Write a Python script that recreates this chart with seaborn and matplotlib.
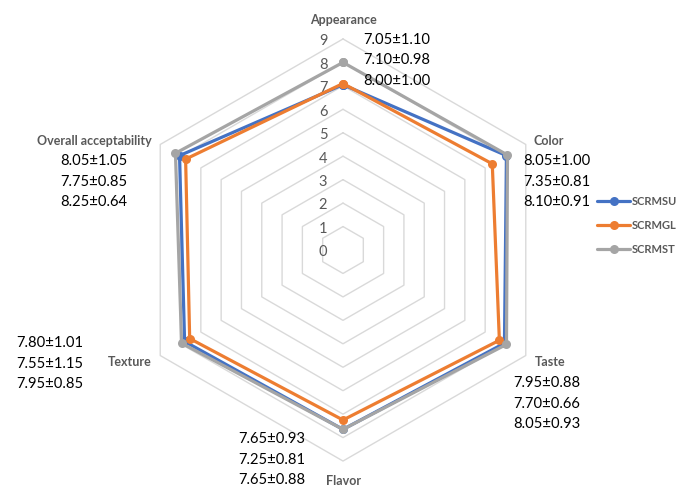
import numpy as np
import pandas as pd
import matplotlib
matplotlib.use("Agg")
import matplotlib.pyplot as plt
import seaborn as sns

# Sensory attributes, clockwise from the top
categories = ["Appearance", "Color", "Taste", "Flavor", "Texture", "Overall acceptability"]
series_names = ["SCRMSU", "SCRMGL", "SCRMST"]

# Mean scores
scrmsu_mean = [7.05, 8.05, 7.95, 7.65, 7.80, 8.05]
scrmgl_mean = [7.10, 7.35, 7.70, 7.25, 7.55, 7.75]
scrmst_mean = [8.00, 8.10, 8.05, 7.65, 7.95, 8.25]

# Standard deviations
scrmsu_sd = [1.10, 1.00, 0.88, 0.93, 1.01, 1.05]
scrmgl_sd = [0.98, 0.81, 0.66, 0.81, 1.15, 0.85]
scrmst_sd = [1.00, 0.91, 0.93, 0.88, 0.85, 0.64]

radial_ticks = list(range(0, 10))

colors = {"SCRMSU": "#4472C4", "SCRMGL": "#ED7D31", "SCRMST": "#A5A5A5"}
grid_color = "#D9D9D9"
label_color = "#595959"

W, H = 690, 486
CX, CY = 343, 250      # centre of the radar, pixels from top-left
UNIT = 23.45           # pixels per score point

sns.set_theme(style="white")
plt.rcParams["font.family"] = ["Lato", "DejaVu Sans"]

fig = plt.figure(figsize=(W / 100, H / 100), dpi=100)
ax = fig.add_axes([0, 0, 1, 1])
ax.axis("off")

n = len(categories)
angles = np.pi / 2 - 2 * np.pi * np.arange(n) / n


def to_xy(values):
    v = np.asarray(values, dtype=float)
    return v * np.cos(angles), v * np.sin(angles)


# Hexagonal gridlines
for t in radial_ticks[1:]:
    gx, gy = to_xy([t] * n)
    ax.plot(np.append(gx, gx[0]), np.append(gy, gy[0]), color=grid_color, lw=1.0, zorder=1)

# Radial tick labels along the Appearance spoke
for t in radial_ticks:
    ax.text(-20 / UNIT, t - 0.1, str(t), ha="center", va="center",
            fontsize=10.5, color=label_color, zorder=2)

# Series polygons
means = {"SCRMSU": scrmsu_mean, "SCRMGL": scrmgl_mean, "SCRMST": scrmst_mean}
rows = []
for name in series_names:
    xs, ys = to_xy(means[name])
    for i in range(n + 1):
        rows.append({"series": name, "order": i, "x": xs[i % n], "y": ys[i % n]})
df = pd.DataFrame(rows)

sns.lineplot(data=df, x="x", y="y", hue="series", hue_order=series_names,
             palette=colors, sort=False, estimator=None, marker="o",
             markersize=6.5, markeredgewidth=0, linewidth=2.3, ax=ax, zorder=3)

ax.set_xlim(-CX / UNIT, (W - CX) / UNIT)
ax.set_ylim(-(H - CY) / UNIT, CY / UNIT)
ax.set_aspect("auto")
ax.axis("off")


def fpos(px, py):
    return px / W, 1 - py / H


# Category labels and mean±SD annotations
label_pos = {
    "Appearance": ((343, 20), "center"),
    "Color": ((533, 141), "left"),
    "Taste": ((535, 362), "left"),
    "Flavor": ((344, 481), "center"),
    "Texture": ((152, 362), "right"),
    "Overall acceptability": ((152, 141), "right"),
}
value_pos = {
    "Appearance": (363, 40),
    "Color": (523, 161),
    "Taste": (513, 383),
    "Flavor": (238, 439),
    "Texture": (16, 343),
    "Overall acceptability": (60, 161),
}
sds = {"SCRMSU": scrmsu_sd, "SCRMGL": scrmgl_sd, "SCRMST": scrmst_sd}

for i, cat in enumerate(categories):
    (lx, ly), ha = label_pos[cat]
    fig.text(*fpos(lx, ly), cat, ha=ha, va="center", fontsize=9,
             fontweight="bold", color=label_color)
    vx, vy = value_pos[cat]
    for j, name in enumerate(series_names):
        txt = f"{means[name][i]:.2f}±{sds[name][i]:.2f}"
        fig.text(*fpos(vx, vy + j * 20.5), txt, ha="left", va="center",
                 fontsize=10.6, color="black")

# Legend
handles, labels = ax.get_legend_handles_labels()
leg = ax.legend(handles, labels, loc="upper left",
                bbox_to_anchor=fpos(597, 196), bbox_transform=fig.transFigure,
                frameon=False, handlelength=3.0, handletextpad=0.15,
                labelspacing=1.15, borderpad=0, borderaxespad=0,
                prop={"size": 8, "weight": "bold"})
for t in leg.get_texts():
    t.set_color(label_color)

fig.savefig("out.png", dpi=100)
